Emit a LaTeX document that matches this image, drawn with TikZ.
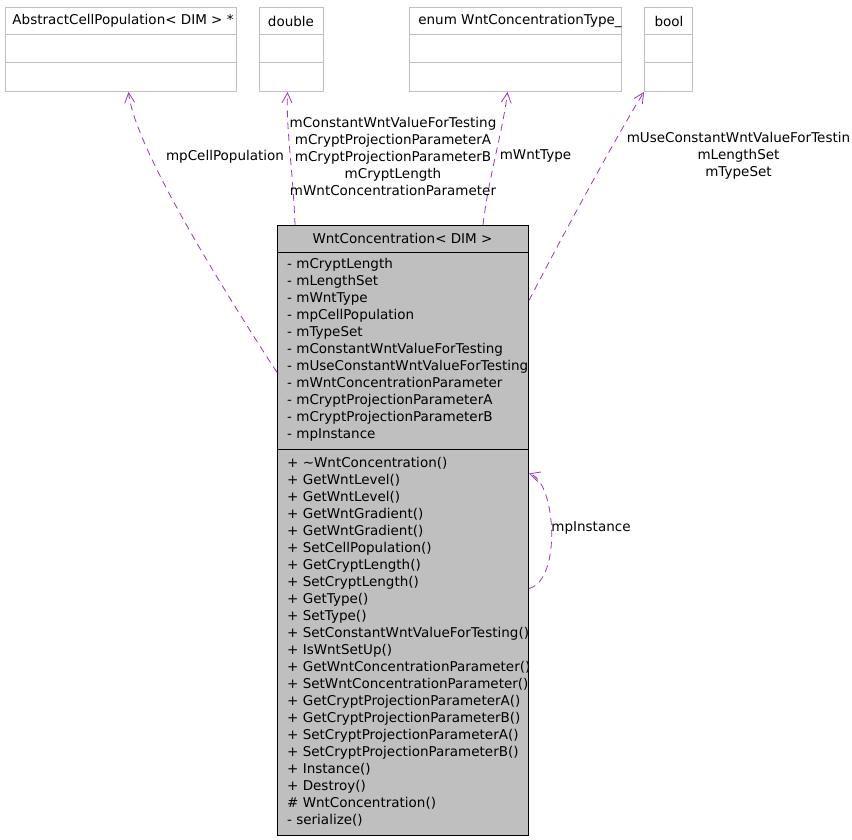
\documentclass[tikz,border=0pt]{standalone}
\usepackage{fontspec}
\setmainfont{DejaVu Sans}
\usetikzlibrary{arrows.meta}
\definecolor{edgecol}{HTML}{9A32CD}
\definecolor{boxgray}{HTML}{BFBFBF}
\tikzset{
  txt/.style={font=\fontsize{13.5}{17}\selectfont, inner sep=0pt},
  topbox/.style={draw=boxgray, line width=1pt, anchor=north west, inner sep=0pt},
  mainbox/.style={draw=black, fill=boxgray, line width=1pt, anchor=north west, inner sep=0pt},
  divider/.style={line width=1pt},
  rel/.style={draw=edgecol, line width=0.8pt, dash pattern=on 7pt off 5pt,
    -{Straight Barb[length=10pt,width=10pt,line width=0.8pt]}},
  lbl/.style={txt, align=center}
}
\begin{document}
\begin{tikzpicture}[x=1pt,y=-1pt]
\useasboundingbox (0,0) rectangle (852,840);

% top boxes
\node[topbox, minimum width=231pt, minimum height=84pt] (acp) at (5,7) {};
\draw[divider, boxgray] (acp.north west) ++(0,28) -- +(231,0);
\draw[divider, boxgray] (acp.north west) ++(0,56) -- +(231,0);
\node[txt] (acpt) at (123,21) {AbstractCellPopulation< DIM > *};

\node[topbox, minimum width=64pt, minimum height=84pt] (dbl) at (259,7) {};
\draw[divider, boxgray] (dbl.north west) ++(0,28) -- +(64,0);
\draw[divider, boxgray] (dbl.north west) ++(0,56) -- +(64,0);
\node[txt] (dblt) at (291,21) {double};

\node[topbox, minimum width=212pt, minimum height=84pt] (enm) at (409,7) {};
\draw[divider, boxgray] (enm.north west) ++(0,28) -- +(212,0);
\draw[divider, boxgray] (enm.north west) ++(0,56) -- +(212,0);
\node[txt] (enmt) at (520,21) {enum WntConcentrationType\_};

\node[topbox, minimum width=48pt, minimum height=84pt] (bol) at (644,7) {};
\draw[divider, boxgray] (bol.north west) ++(0,28) -- +(48,0);
\draw[divider, boxgray] (bol.north west) ++(0,56) -- +(48,0);
\node[txt] (bolt) at (669,21) {bool};

% main box
\node[mainbox, minimum width=251pt, minimum height=610pt] (main) at (277,225) {};
\draw[divider] (main.north west) ++(0,27) -- +(251,0);
\draw[divider] (main.north west) ++(0,224) -- +(251,0);
\node[txt] (maint) at (402.5,238) {WntConcentration< DIM >};

\foreach \t [count=\i from 0] in {
  - mCryptLength, - mLengthSet, - mWntType, - mpCellPopulation, - mTypeSet,
  - mConstantWntValueForTesting, - mUseConstantWntValueForTesting,
  - mWntConcentrationParameter, - mCryptProjectionParameterA,
  - mCryptProjectionParameterB, - mpInstance}
  \node[txt, anchor=base west] (attr\i) at (287,268.5+17*\i) {\t};

\foreach \t [count=\i from 0] in {
  + \textasciitilde WntConcentration(), + GetWntLevel(), + GetWntLevel(),
  + GetWntGradient(), + GetWntGradient(), + SetCellPopulation(),
  + GetCryptLength(), + SetCryptLength(), + GetType(), + SetType(),
  + SetConstantWntValueForTesting(), + IsWntSetUp(),
  + GetWntConcentrationParameter(), + SetWntConcentrationParameter(),
  + GetCryptProjectionParameterA(), + GetCryptProjectionParameterB(),
  + SetCryptProjectionParameterA(), + SetCryptProjectionParameterB(),
  + Instance(), + Destroy(), \# WntConcentration(), - serialize()}
  \node[txt, anchor=base west] (meth\i) at (287,467.5+17*\i) {\t};

% connectors
\draw[rel] ([yshift=158pt]main.west) .. controls (230,300) and (135,150) .. ([xshift=7.5pt]acp.south);
\draw[rel] ([xshift=-108pt]main.north) .. controls (293,170) and (286,130) .. ([xshift=-4pt]dbl.south);
\draw[rel] ([xshift=80pt]main.north) .. controls (488,180) and (503,130) .. ([xshift=-8pt]enm.south);
\draw[rel] ([yshift=230pt]main.east) .. controls (560,240) and (620,130) .. ([xshift=-24.5pt]bol.south);
\draw[rel] ([yshift=-58pt]main.east) .. controls (562,580) and (556,482) .. ([yshift=57pt]main.east);

% labels
\node[lbl] (l1) at (225,157) {mpCellPopulation};
\node[lbl] (l2) at (393,156) {mConstantWntValueForTesting\\mCryptProjectionParameterA\\mCryptProjectionParameterB\\mCryptLength\\mWntConcentrationParameter};
\node[lbl] (l3) at (535.5,156) {mWntType};
\node[lbl] (l4) at (738.5,156) {mUseConstantWntValueForTestin\\mLengthSet\\mTypeSet};
\node[lbl] (l5) at (591,528) {mpInstance};
\end{tikzpicture}
\end{document}
